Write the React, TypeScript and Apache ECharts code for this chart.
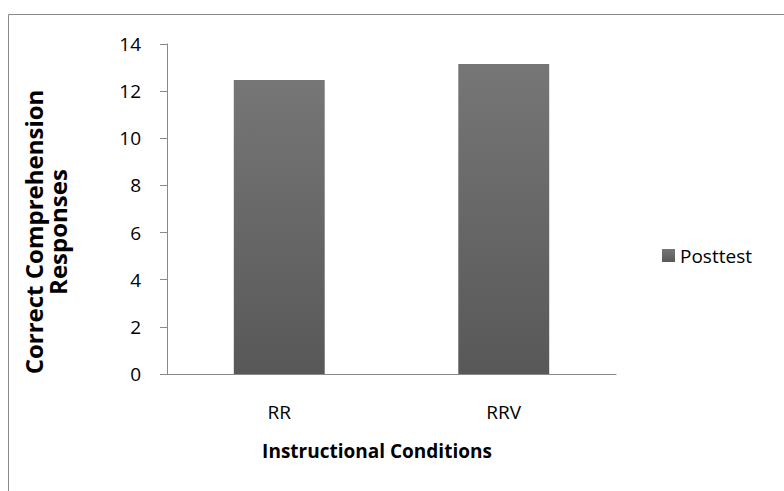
import React, { useEffect, useRef } from "react";
import * as echarts from "echarts";

const categories = ["RR", "RRV"];
const posttest = [12.47, 13.15];
const yTicks = { min: 0, max: 14, interval: 2 };
const seriesName = "Posttest";
const xTitle = "Instructional Conditions";
const yTitle = "Correct Comprehension\nResponses";

const FONT = "'Open Sans', 'Noto Sans', sans-serif";

export default function App() {
  const ref = useRef<HTMLDivElement>(null);
  useEffect(() => {
    if (!ref.current) return;
    const chart = echarts.init(ref.current, null, { renderer: "svg" });
    const grad = new echarts.graphic.LinearGradient(0, 0, 0, 1, [
      { offset: 0, color: "#767676" },
      { offset: 1, color: "#585858" },
    ]);
    chart.setOption({
      animation: false,
      backgroundColor: "#ffffff",
      textStyle: { fontFamily: FONT },
      grid: { left: 167, top: 44, right: 168, bottom: 117 },
      legend: {
        data: [seriesName],
        left: 657,
        top: 241,
        icon: "rect",
        itemWidth: 13,
        itemHeight: 13,
        itemGap: 5,
        textStyle: { fontFamily: FONT, fontSize: 19, color: "#000" },
      },
      xAxis: {
        type: "category",
        data: categories,
        axisLine: { lineStyle: { color: "#898989", width: 1 } },
        axisTick: { show: false },
        axisLabel: { margin: 28, fontSize: 19, color: "#000", fontFamily: FONT },
      },
      yAxis: {
        type: "value",
        min: yTicks.min,
        max: yTicks.max,
        interval: yTicks.interval,
        splitLine: { show: false },
        axisLine: { show: true, lineStyle: { color: "#898989", width: 1 } },
        axisTick: { show: true, length: 7, lineStyle: { color: "#898989" } },
        axisLabel: { margin: 26, fontSize: 19, color: "#000", fontFamily: FONT },
      },
      series: [
        {
          name: seriesName,
          type: "bar",
          data: posttest,
          barWidth: "40.5%",
          itemStyle: { color: grad },
        },
      ],
      graphic: [
        {
          type: "rect",
          shape: { x: 8.5, y: 14.5, width: 900, height: 600 },
          style: { fill: "none", stroke: "#8a8a8a", lineWidth: 1 },
          silent: true,
        },
        {
          type: "text",
          x: 377,
          y: 451,
          style: {
            text: xTitle,
            fontFamily: FONT,
            fontSize: 19,
            fontWeight: "bold",
            fill: "#000",
            align: "center",
            verticalAlign: "middle",
          },
        },
        {
          type: "text",
          x: 45,
          y: 232,
          rotation: Math.PI / 2,
          style: {
            text: yTitle,
            fontFamily: FONT,
            fontSize: 24,
            fontWeight: "bold",
            fill: "#000",
            align: "center",
            verticalAlign: "middle",
            lineHeight: 24,
          },
        },
      ],
    });
    return () => chart.dispose();
  }, []);
  return (
    <div
      ref={ref}
      style={{ position: "fixed", left: 0, top: 0, width: 784, height: 491 }}
    />
  );
}
